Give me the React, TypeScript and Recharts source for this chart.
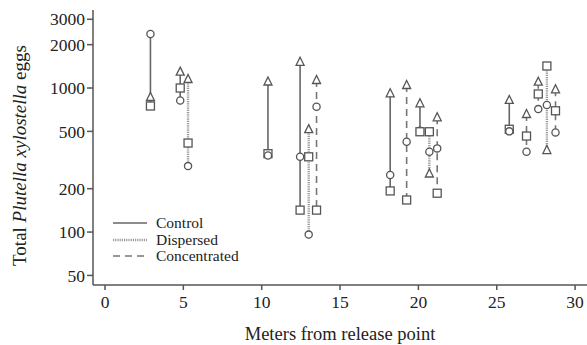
import React from 'react';
import { ComposedChart, Scatter, XAxis, YAxis, Legend } from 'recharts';

// plot positions (m from release point) and the treatment of each
const groupX = [2.9, 4.8, 5.3, 10.4, 12.45, 13.0, 13.5, 18.2, 19.25, 20.1, 20.7, 21.2, 25.8, 26.9, 27.65, 28.2, 28.75];
const groupTreatment = [
  'Control', 'Control', 'Dispersed', 'Control', 'Control', 'Dispersed', 'Concentrated',
  'Control', 'Concentrated', 'Control', 'Dispersed', 'Concentrated',
  'Control', 'Concentrated', 'Concentrated', 'Dispersed', 'Concentrated',
];
// egg totals per marker type
const triangleEggs = [866, 1300, 1155, 1110, 1520, 518, 1137, 919, 1049, 783, 255, 626, 826, 660, 1106, 371, 980];
const squareEggs = [750, 1000, 415, 350, 142, 333, 142, 193, 167, 497, 497, 186, 517, 464, 909, 1422, 695];
const circleEggs = [2370, 820, 287, 340, 333, 96, 741, 249, 424, 505, 361, 381, 500, 361, 714, 763, 492];

const treatments = ['Control', 'Dispersed', 'Concentrated'];
const xTicks = [0, 5, 10, 15, 20, 25, 30];
const yTicks = [50, 100, 200, 500, 1000, 2000, 3000];

const FONT = '"Liberation Serif", "DejaVu Serif", serif';
const INK = '#555';

const lineStyle: Record<string, any> = {
  Control: { stroke: '#666', strokeWidth: 1.6 },
  Dispersed: { stroke: '#999', strokeWidth: 2.4, strokeDasharray: '1.2 1' },
  Concentrated: { stroke: '#777', strokeWidth: 1.6, strokeDasharray: '7 5' },
};

const groups = groupX.map((x, i) => ({
  treatment: groupTreatment[i],
  points: [
    { x, y: triangleEggs[i], m: 'triangle' },
    { x, y: squareEggs[i], m: 'square' },
    { x, y: circleEggs[i], m: 'circle' },
  ].sort((a, b) => b.y - a.y),
}));

const Marker = (props: any) => {
  const { cx, cy, payload } = props;
  if (cx == null || cy == null) return null;
  const common = { fill: '#fff', stroke: INK, strokeWidth: 1.3 };
  if (payload.m === 'square') {
    return <rect x={cx - 4} y={cy - 4} width={8} height={8} {...common} />;
  }
  if (payload.m === 'triangle') {
    return <path d={`M${cx},${cy - 4.5} L${cx + 4},${cy + 3.5} L${cx - 4},${cy + 3.5} Z`} {...common} />;
  }
  return <circle cx={cx} cy={cy} r={3.6} {...common} />;
};

const renderLegend = () => (
  <div style={{ fontFamily: FONT, fontSize: 15.5, color: '#222', lineHeight: '16.5px' }}>
    {treatments.map((t) => (
      <div key={t} style={{ display: 'flex', alignItems: 'center', height: 16.5 }}>
        <svg width={46} height={12}>
          <line x1={3} y1={6} x2={37} y2={6} {...lineStyle[t]} />
        </svg>
        <span>{t}</span>
      </div>
    ))}
  </div>
);

const renderYLabel = (props: any) => {
  const { viewBox } = props;
  const cy = viewBox.y + viewBox.height / 2 + 8;
  return (
    <text
      x={19}
      y={cy}
      transform={`rotate(-90, 19, ${cy})`}
      textAnchor="middle"
      dominantBaseline="central"
      fontFamily={FONT}
      fontSize={19}
      fill="#222"
    >
      Total <tspan fontStyle="italic">Plutella xylostella</tspan> eggs
    </text>
  );
};

export default function App() {
  return (
    <div style={{ position: 'absolute', left: 0, top: 0, background: '#fff' }}>
      <ComposedChart width={587} height={345} margin={{ top: 10, right: 0, bottom: 0, left: 0 }}>
        <XAxis
          dataKey="x"
          type="number"
          domain={[-0.766, 30.76]}
          allowDataOverflow
          ticks={xTicks}
          interval={0}
          tickSize={5}
          height={60}
          stroke={INK}
          strokeWidth={1.5}
          tick={{ fontFamily: FONT, fontSize: 17.5, fill: '#222' }}
          tickMargin={6}
          label={{ value: 'Meters from release point', position: 'insideBottom', offset: 5, fontFamily: FONT, fontSize: 18.5, fill: '#222' }}
        />
        <YAxis
          dataKey="y"
          type="number"
          scale="log"
          domain={[42.9, 3480]}
          allowDataOverflow
          ticks={yTicks}
          interval={0}
          width={93}
          tickSize={6}
          stroke={INK}
          strokeWidth={1.5}
          tick={{ fontFamily: FONT, fontSize: 17.5, fill: '#222' }}
          tickMargin={2}
          label={renderYLabel}
        />
        <Legend
          layout="vertical"
          align="center"
          verticalAlign="middle"
          content={renderLegend}
          wrapperStyle={{ left: 110, top: 215, width: 170 }}
        />
        {groups.map((g, i) => (
          <Scatter
            key={i}
            name={g.treatment}
            data={g.points}
            line={lineStyle[g.treatment]}
            lineType="joint"
            shape={Marker}
            isAnimationActive={false}
            legendType="none"
          />
        ))}
      </ComposedChart>
    </div>
  );
}
